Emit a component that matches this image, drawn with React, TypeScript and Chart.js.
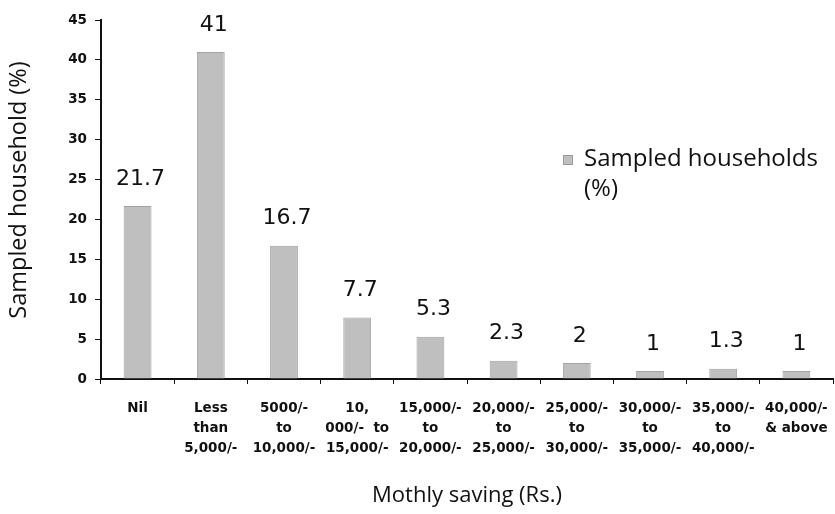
import React, { useEffect, useRef } from "react";
import { Chart, registerables } from "chart.js";

Chart.register(...registerables);

// Monthly saving brackets (multi-line tick labels)
const categories: string[][] = [
  ["Nil"],
  ["Less", "than", "5,000/-"],
  ["5000/-", "to", "10,000/-"],
  ["10,", "000/-  to", "15,000/-"],
  ["15,000/-", "to", "20,000/-"],
  ["20,000/-", "to", "25,000/-"],
  ["25,000/-", "to", "30,000/-"],
  ["30,000/-", "to", "35,000/-"],
  ["35,000/-", "to", "40,000/-"],
  ["40,000/-", "& above"],
];

// Share of sampled households in each bracket (%)
const households: number[] = [21.7, 41, 16.7, 7.7, 5.3, 2.3, 2, 1, 1.3, 1];

const seriesName = ["Sampled households", "(%)"];
const xTitle = "Mothly saving (Rs.)";
const yTitle = "Sampled household (%)";

const TICK_FONT = "'DejaVu Sans', sans-serif";
const TEXT_FONT = "'Open Sans', sans-serif";
const BAR_FILL = "#bfbfbf";
const BAR_EDGE = "#a3a3a3";

// Draws value labels, axis titles and the legend block.
const annotations = {
  id: "annotations",
  afterDraw(chart: any) {
    const { ctx, chartArea } = chart;
    const meta = chart.getDatasetMeta(0);
    ctx.save();
    ctx.fillStyle = "#111";
    ctx.font = `22px ${TICK_FONT}`;
    ctx.textAlign = "center";
    ctx.textBaseline = "middle";
    meta.data.forEach((bar: any, i: number) => {
      ctx.fillText(String(households[i]), bar.x + 3, bar.y - 27);
    });

    // x axis title
    ctx.font = `22px ${TEXT_FONT}`;
    ctx.fillText(xTitle, (chartArea.left + chartArea.right) / 2, 496);

    // y axis title
    ctx.save();
    ctx.translate(19, 190);
    ctx.rotate(-Math.PI / 2);
    ctx.font = `23.5px ${TEXT_FONT}`;
    ctx.fillText(yTitle, 0, 0);
    ctx.restore();

    // legend
    ctx.fillStyle = BAR_FILL;
    ctx.fillRect(563, 155, 10, 10);
    ctx.strokeStyle = "#777";
    ctx.lineWidth = 1;
    ctx.setLineDash([1, 1]);
    ctx.strokeRect(563.5, 155.5, 9, 9);
    ctx.setLineDash([]);
    ctx.fillStyle = "#111";
    ctx.textAlign = "left";
    ctx.font = `24px ${TEXT_FONT}`;
    ctx.fillText(seriesName[0], 584, 159);
    ctx.fillText(seriesName[1], 584, 189);
    ctx.restore();
  },
};

export default function App() {
  const canvasRef = useRef<HTMLCanvasElement | null>(null);

  useEffect(() => {
    if (!canvasRef.current) return;
    const chart = new Chart(canvasRef.current, {
      type: "bar",
      data: {
        labels: categories,
        datasets: [
          {
            label: seriesName.join(" "),
            data: households,
            backgroundColor: BAR_FILL,
            borderColor: BAR_EDGE,
            borderWidth: 1,
            barPercentage: 0.38,
            categoryPercentage: 1,
          },
        ],
      },
      options: {
        animation: false,
        responsive: false,
        maintainAspectRatio: false,
        layout: { padding: { top: 20, right: 2, left: 0, bottom: 0 } },
        plugins: {
          legend: { display: false },
          tooltip: { enabled: false },
        },
        scales: {
          x: {
            offset: true,
            grid: {
              display: true,
              offset: true,
              drawOnChartArea: false,
              drawTicks: true,
              tickLength: 5,
              color: "#111",
              lineWidth: 1,
            },
            border: { display: true, color: "#111", width: 2 },
            ticks: {
              color: "#111",
              padding: 14,
              maxRotation: 0,
              autoSkip: false,
              font: { family: TICK_FONT, size: 13.5, weight: "bold", lineHeight: 1.5 },
            },
            afterFit(scale: any) {
              scale.height = 135;
              scale.paddingLeft = 0;
              scale.paddingRight = 0;
            },
          },
          y: {
            min: 0,
            max: 45,
            ticks: {
              stepSize: 5,
              color: "#111",
              padding: 8,
              font: { family: TICK_FONT, size: 13.5, weight: "bold" },
            },
            grid: {
              display: true,
              drawOnChartArea: false,
              drawTicks: true,
              tickLength: 6,
              color: "#111",
            },
            border: { display: true, color: "#111", width: 2 },
            afterFit(scale: any) {
              scale.width = 101;
            },
          },
        },
      },
      plugins: [annotations],
    });
    return () => chart.destroy();
  }, []);

  return (
    <div style={{ position: "fixed", left: 0, top: 0, width: 835, height: 514, background: "#fff" }}>
      <canvas ref={canvasRef} width={835} height={514} />
    </div>
  );
}
